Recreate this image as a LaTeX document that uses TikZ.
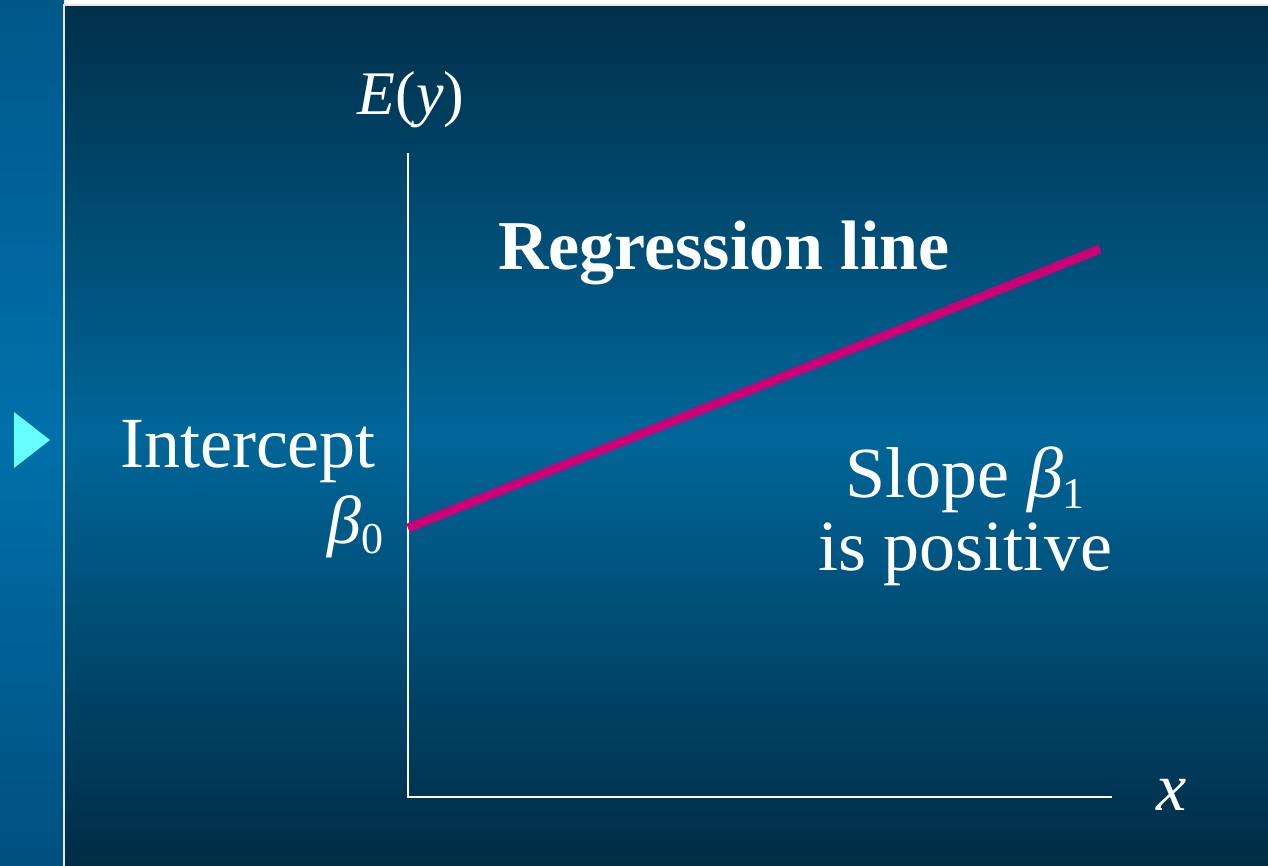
\documentclass[tikz,border=0pt]{standalone}
\usepackage{fontspec}
\setmainfont{Liberation Serif}
\definecolor{striptop}{HTML}{00588A}
\definecolor{stripmid}{HTML}{0070AA}
\definecolor{stripbot}{HTML}{00507F}
\definecolor{paneltop}{HTML}{00304A}
\definecolor{panelmid}{HTML}{006699}
\definecolor{panelbot}{HTML}{002C45}
\definecolor{marker}{HTML}{66FFFF}
\definecolor{regline}{HTML}{CC0077}
\tikzset{
  axis/.style={draw=white,line width=1pt},
  fitline/.style={draw=regline,line width=4.5pt},
  label/.style={text=white,inner sep=0pt,font=\fontsize{36}{36.5}\selectfont},
  varlabel/.style={text=white,inner sep=0pt,font=\fontsize{34}{36}\selectfont\itshape}
}
\newcommand{\coef}[1]{{\itshape β}\raisebox{-.16em}{\fontsize{22}{22}\selectfont #1}}

\begin{document}
\begin{tikzpicture}[x=.5pt,y=-.5pt]
  \useasboundingbox (0,0) rectangle (1268,866);

  % Background: side strip and main panel.
  \fill[top color=striptop,bottom color=stripbot,middle color=stripmid]
    (0,0) rectangle (64,866);
  \fill[top color=paneltop,bottom color=panelbot,middle color=panelmid]
    (64,5) rectangle (1268,866);
  \draw[draw=white!90!black,line width=1pt] (64,866) -- (64,5) -- (1268,5);
  \fill[marker] (14,412) -- (50,440) -- (14,468) -- cycle;

  % Axes.
  \coordinate (origin) at (408,797);
  \coordinate (ytop) at (408,153);
  \coordinate (xend) at (1112,797);
  \draw[axis] (ytop) -- (origin) -- (xend);
  \node[varlabel,font=\fontsize{31}{33}\selectfont\itshape] (ylab) at (411,100)
    {E{\upshape(}y{\upshape)}};
  \node[varlabel,anchor=base] (xlab) at (1172,810) {x};

  % Regression line.
  \coordinate (b0) at (408,528);
  \coordinate (lineend) at (1100,249);
  \draw[fitline] (b0) -- (lineend);
  \node[label,anchor=base,font=\fontsize{35}{36.5}\selectfont\bfseries] (title)
    at (724,270) {Regression line};

  % Intercept and slope.
  \node[label,anchor=base] (intercept) at (248,467) {Intercept};
  \node[label,anchor=base east,font=\fontsize{34}{34}\selectfont] (beta0)
    at (384,543) {\coef{0}};
  \node[label,align=center] (slope) at (965,516) {Slope \coef{1}\\is positive};
\end{tikzpicture}
\end{document}
